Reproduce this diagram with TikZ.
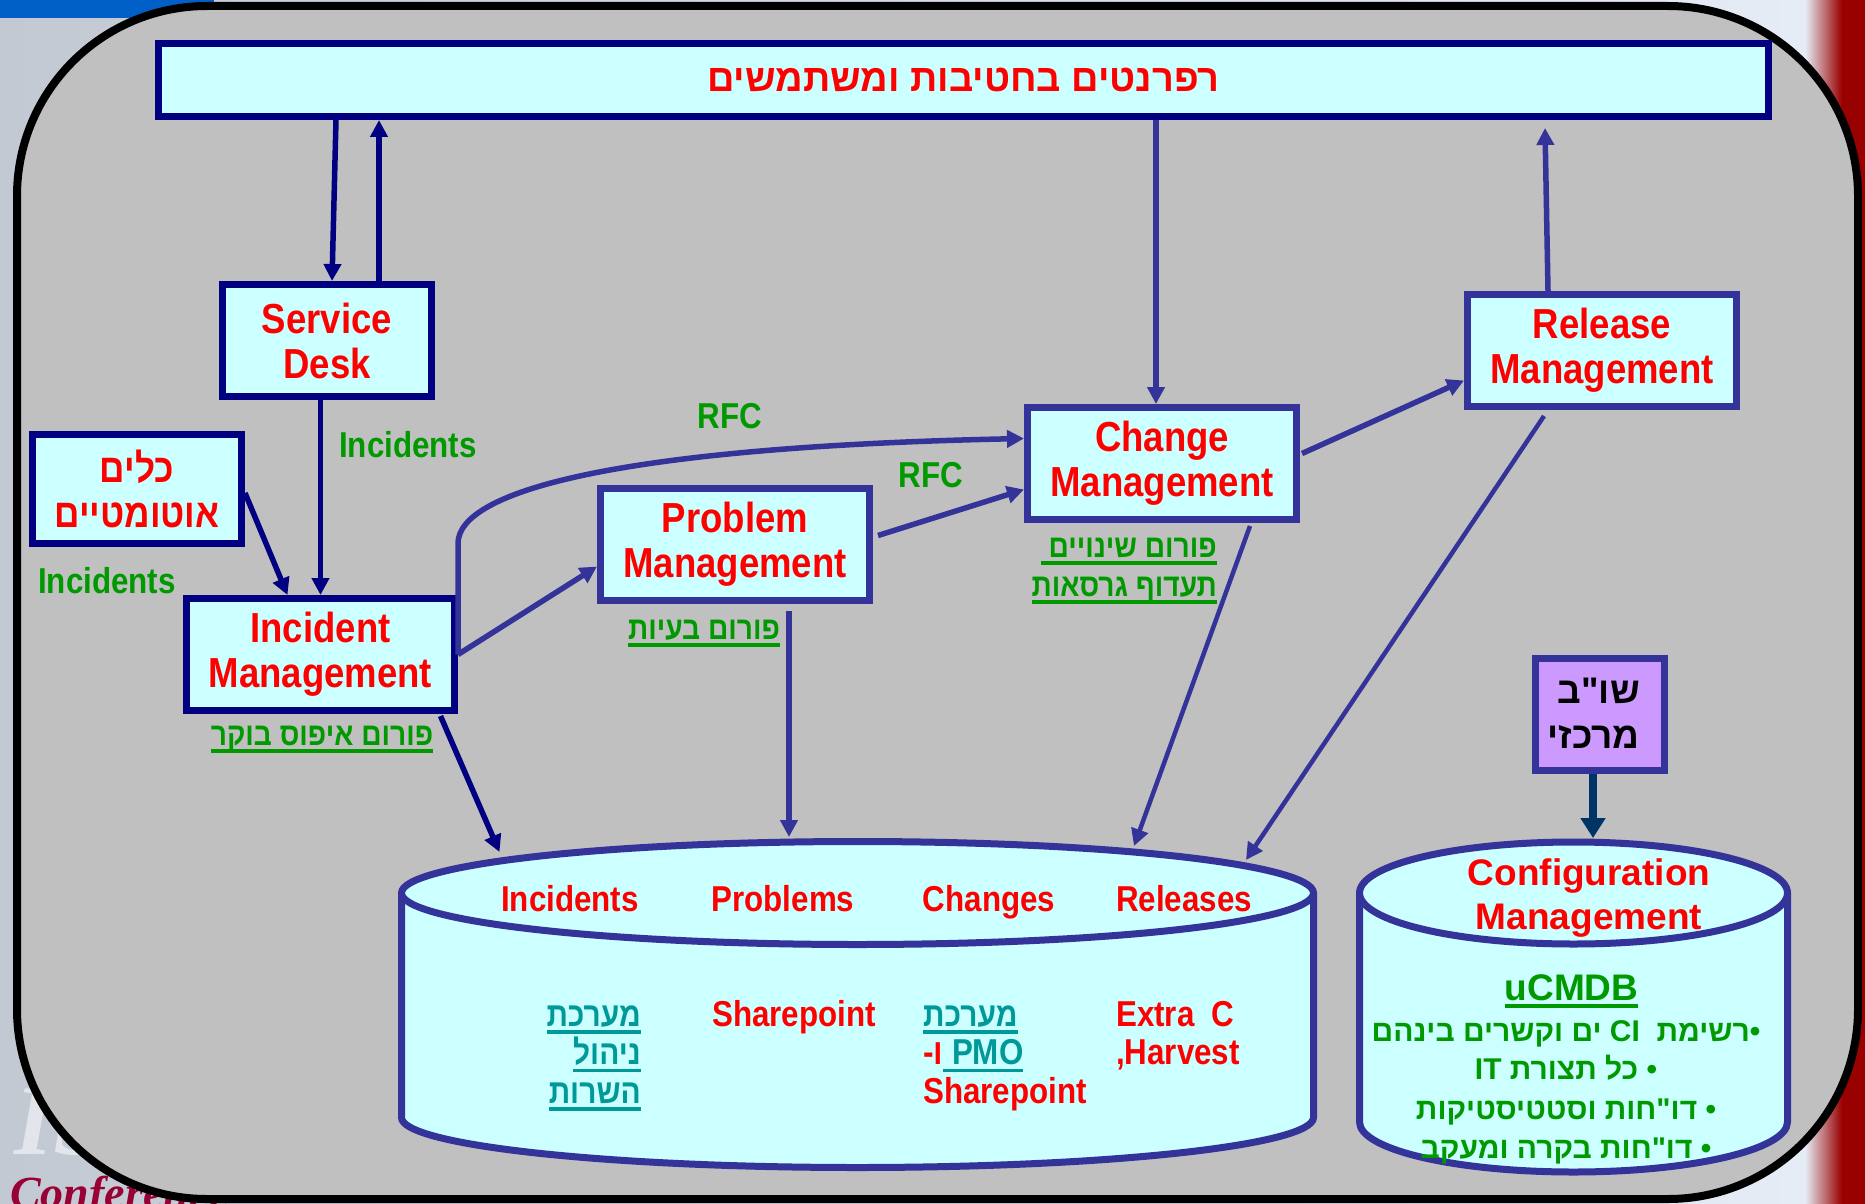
\documentclass[tikz,border=0pt]{standalone}
\usepackage{fontspec}
\usetikzlibrary{arrows.meta,calc}
\TeXXeTstate=1
\setmainfont{Liberation Sans}
\newfontfamily\narrowfont[FakeStretch=0.87]{Liberation Sans}
\newfontfamily\hebfont[Script=Hebrew]{Liberation Sans}
\newfontfamily\hebnarrow[Script=Hebrew,FakeStretch=0.88]{Liberation Sans}
\newfontfamily\decofont{Liberation Serif}

\definecolor{navy}{HTML}{000080}
\definecolor{procblue}{HTML}{333399}
\definecolor{boxfill}{HTML}{CCFFFF}
\definecolor{lblred}{HTML}{FF0000}
\definecolor{lblgreen}{HTML}{009900}
\definecolor{lblteal}{HTML}{009999}
\definecolor{lilac}{HTML}{CC99FF}
\definecolor{deepblue}{HTML}{003366}
\definecolor{panelgrey}{HTML}{C0C0C0}
\definecolor{slateleft}{HTML}{C2C9D3}
\definecolor{slateright}{HTML}{E6ECF5}
\definecolor{maroon}{HTML}{990000}
\definecolor{confred}{HTML}{990033}
\definecolor{slideblue}{HTML}{0060C8}
\definecolor{ghostwhite}{HTML}{E2E6EC}

% underline: a rule under the whole box, in the current colour
\newcommand\undl[1]{\setbox0=\hbox{#1}\leavevmode\rlap{\vrule height -4pt depth 7.5pt width \wd0}\box0}

\tikzset{
  procnode/.style={draw=#1, line width=7pt, fill=boxfill, inner sep=0pt, align=center,
    text=lblred, font=\narrowfont\bfseries\fontsize{42}{45}\selectfont},
  procnode/.default=procblue,
  conn/.style={draw=#1, line width=5.5pt, -{Triangle[length=17pt,width=17pt]}},
  conn/.default=procblue,
  flowlbl/.style={text=lblgreen, font=\narrowfont\bfseries\fontsize{36}{38}\selectfont, inner sep=0pt, anchor=base},
  forum/.style={text=lblgreen, font=\hebnarrow\bfseries\fontsize{32}{36}\selectfont, inner sep=0pt, anchor=base},
  store/.style={text=lblred, font=\narrowfont\bfseries\fontsize{36}{38}\selectfont, inner sep=0pt, anchor=base},
  storeheb/.style={text=lblteal, font=\hebnarrow\bfseries\fontsize{34}{38}\selectfont, inner sep=0pt},
  cfgtxt/.style={text=lblgreen, font=\hebfont\bfseries\fontsize{30}{34}\selectfont, inner sep=0pt, anchor=base},
  tank/.style={draw=procblue, line width=7pt},
  holder/.style={inner sep=0pt, outer sep=0pt, draw=none},
}

\begin{document}
\begin{tikzpicture}[x=1pt,y=-1pt]
\useasboundingbox (0,0) rectangle (1865,1204);

% slide backdrop
\shade[left color=slateleft, right color=slateright] (0,0) rectangle (1805,1204);
\shade[left color=slateright, right color=maroon] (1805,0) rectangle (1842,1204);
\fill[maroon] (1842,0) rectangle (1865,1204);
\fill[slideblue] (0,0) rectangle (214,18);
\node[anchor=base west, inner sep=0pt, text=ghostwhite,
      font=\decofont\bfseries\itshape\fontsize{100}{100}\selectfont] (ghost) at (14,1154) {IS};
\node[anchor=base west, inner sep=0pt, text=confred,
      font=\decofont\bfseries\itshape\fontsize{46}{46}\selectfont] (conf) at (10,1208) {Conference};

% rounded grey panel
\draw[line width=8pt, fill=panelgrey, rounded corners=190pt] (17,6) rectangle (1858,1199);

% ---- data store cylinder
\node[holder, minimum width=912pt, minimum height=326pt] (db) at (857.5,1004.5) {};
\coordinate (dbt) at ($(db.north)+(0,51.5)$);
\coordinate (dbb) at ($(db.south)+(0,-50)$);
\fill[boxfill] ($(dbt)+(-456,0)$) -- ($(dbb)+(-456,0)$)
  arc[start angle=180, end angle=0, x radius=456, y radius=50] -- ($(dbt)+(456,0)$) -- cycle;
\draw[tank] ($(dbt)+(-456,0)$) -- ($(dbb)+(-456,0)$)
  arc[start angle=180, end angle=0, x radius=456, y radius=50] -- ($(dbt)+(456,0)$);
\draw[tank, fill=boxfill] (dbt) ellipse [x radius=456, y radius=51.5];

% ---- configuration cylinder
\node[holder, minimum width=428pt, minimum height=330pt] (cfg) at (1573.5,1007) {};
\coordinate (cfgt) at ($(cfg.north)+(0,51)$);
\coordinate (cfgb) at ($(cfg.south)+(0,-50)$);
\fill[boxfill] ($(cfgt)+(-214,0)$) -- ($(cfgb)+(-214,0)$)
  arc[start angle=180, end angle=0, x radius=214, y radius=50] -- ($(cfgt)+(214,0)$) -- cycle;
\draw[tank] ($(cfgt)+(-214,0)$) -- ($(cfgb)+(-214,0)$)
  arc[start angle=180, end angle=0, x radius=214, y radius=50] -- ($(cfgt)+(214,0)$);
\draw[tank, fill=boxfill] (cfgt) ellipse [x radius=214, y radius=51];

% ---- process boxes
\node[procnode=navy, minimum width=1610pt, minimum height=73pt,
      font=\hebfont\bfseries\fontsize{38}{40}\selectfont] (bar) at (963.5,80)
      {\beginR רפרנטים בחטיבות ומשתמשים\endR};
\node[procnode=navy, minimum width=209pt, minimum height=112pt] (sd) at (327,340.5) {Service\\Desk};
\node[procnode=navy, minimum width=209pt, minimum height=109pt,
      font=\hebnarrow\bfseries\fontsize{40}{45}\selectfont] (tools) at (137,489)
      {\beginR כלים\endR\\\beginR אוטומטיים\endR};
\node[procnode=navy, minimum width=268pt, minimum height=112pt] (im) at (320.5,654.5) {Incident\\Management};
\node[procnode, minimum width=269pt, minimum height=112pt] (pm) at (735,544.5) {Problem\\Management};
\node[procnode, minimum width=269pt, minimum height=112pt] (cm) at (1162,463.5) {Change\\Management};
\node[procnode, minimum width=269pt, minimum height=112pt] (rm) at (1602,350.5) {Release\\Management};
\node[procnode, minimum width=129pt, minimum height=112pt, fill=lilac] (hub) at (1600,714.5) {};
\node[anchor=base east, inner sep=0pt, font=\hebfont\bfseries\fontsize{37}{44}\selectfont] (hubA) at (1640,703) {\beginR שו"ב\endR};
\node[anchor=base east, inner sep=0pt, font=\hebfont\bfseries\fontsize{37}{44}\selectfont] (hubB) at (1640,748) {\beginR מרכזי\endR};

% ---- connectors
\draw[conn=navy] ($(bar.south -| sd.north)+(9,0)$) -- ($(sd.north)+(5,0)$);
\draw[conn=navy] ($(sd.north)+(52,0)$) -- ($(bar.south -| sd.north)+(52,0)$);
\draw[conn=navy] (sd.south -| im.north) -- (im.north);
\draw[conn=navy] ($(tools.east)+(0,4)$) -- ($(im.north)+(-33,0)$);
\draw[conn] (im.east) -- ($(pm.west)+(0,22)$);
\draw[conn] (im.east) -- ++(0,-111) .. controls +(0,-53) and (620,447) .. ($(cm.west)+(0,-25)$);
\draw[conn] ($(pm.east)+(5,-9)$) -- ($(cm.west)+(0,26)$);
\draw[conn] ($(bar.south -| cm.north)+(-6,0)$) -- ($(cm.north)+(-6,0)$);
\draw[conn] ($(cm.east)+(2,-10)$) -- ($(rm.west)+(0,30)$);
\draw[conn] ($(rm.north)+(-54,0)$) -- ($(bar.south -| rm.north)+(-57,8)$);
\draw[conn, line width=4.5pt] ($(cm.south)+(88,3)$) -- ($(dbt)+(276.5,-47)$);
\draw[conn, line width=4.5pt] ($(rm.south)+(-58,6)$) -- ($(dbt)+(388.5,-33)$);
\draw[conn=navy] ($(im.south)+(120,2)$) -- ($(dbt)+(-358,-41)$);
\draw[conn] ($(pm.south)+(54,7)$) -- ($(dbt)+(-68.5,-56)$);
\draw[draw=deepblue, line width=8pt, -{Triangle[length=20pt,width=24pt]}]
  ($(hub.south)+(-7,0)$) -- ($(cfgt)+(19.5,-55)$);

% ---- flow labels
\node[flowlbl] (lblsd) at (408,457) {Incidents};
\node[flowlbl] (lbltools) at (107,593) {Incidents};
\node[flowlbl] (rfcA) at (730,428) {RFC};
\node[flowlbl] (rfcB) at (931,487) {RFC};

% ---- forums
\node[forum] (fim) at (322,745) {\undl{\beginR פורום איפוס בוקר\endR}};
\node[forum] (fpm) at (704,639) {\undl{\beginR פורום בעיות\endR}};
\node[forum, anchor=base east] (fcmA) at (1217,557) {\undl{\beginR פורום שינויים \endR}};
\node[forum, anchor=base east] (fcmB) at (1217,596) {\undl{\beginR תעדוף גרסאות\endR}};

% ---- data store contents
\node[store] (sIn) at (570,911) {Incidents};
\node[store] (sPr) at (783,911) {Problems};
\node[store] (sCh) at (989,911) {Changes};
\node[store] (sRe) at (1184,911) {Releases};

\node[storeheb, anchor=base east] (inA) at (641,1026) {\undl{\beginR מערכת\endR}};
\node[storeheb, anchor=base east] (inB) at (641,1064.5) {\undl{\beginR ניהול\endR}};
\node[storeheb, anchor=base east] (inC) at (641,1103) {\undl{\beginR השרות\endR}};

\node[store, anchor=base west] (prA) at (712,1026) {Sharepoint};

\node[storeheb, anchor=base west] (chA) at (923,1026) {\undl{\beginR מערכת\endR}};
\node[store, anchor=base west] (chB) at (923,1064.5) {{\hebnarrow\beginR ו-\endR}\textcolor{lblteal}{\undl{\ PMO}}};
\node[store, anchor=base west] (chC) at (923,1103) {Sharepoint};

\node[store, anchor=base west] (reA) at (1116,1026) {Extra~~C};
\node[store, anchor=base west] (reB) at (1116,1064.5) {,Harvest};

% ---- configuration store contents
\node[anchor=base, inner sep=0pt, text=lblred, font=\bfseries\fontsize{37}{44}\selectfont] (cfgA) at (1589,885) {Configuration};
\node[anchor=base, inner sep=0pt, text=lblred, font=\bfseries\fontsize{37}{44}\selectfont] (cfgB) at (1589,929) {Management};
\node[anchor=base, inner sep=0pt, text=lblgreen, font=\bfseries\fontsize{37}{44}\selectfont] (cfgC) at (1571.5,1000) {\undl{uCMDB}};
\node[cfgtxt] (cfgL1) at (1566,1041) {\beginR •רשימת~~\beginL CI\endL{} ים וקשרים בינהם\endR};
\node[cfgtxt] (cfgL2) at (1566,1079) {\beginR •~כל תצורת \beginL IT\endL\endR};
\node[cfgtxt] (cfgL3) at (1566,1119) {\beginR •~דו"חות וסטטיסטיקות\endR};
\node[cfgtxt] (cfgL4) at (1566,1158) {\beginR •~דו"חות בקרה ומעקב\endR};

\end{tikzpicture}
\end{document}
